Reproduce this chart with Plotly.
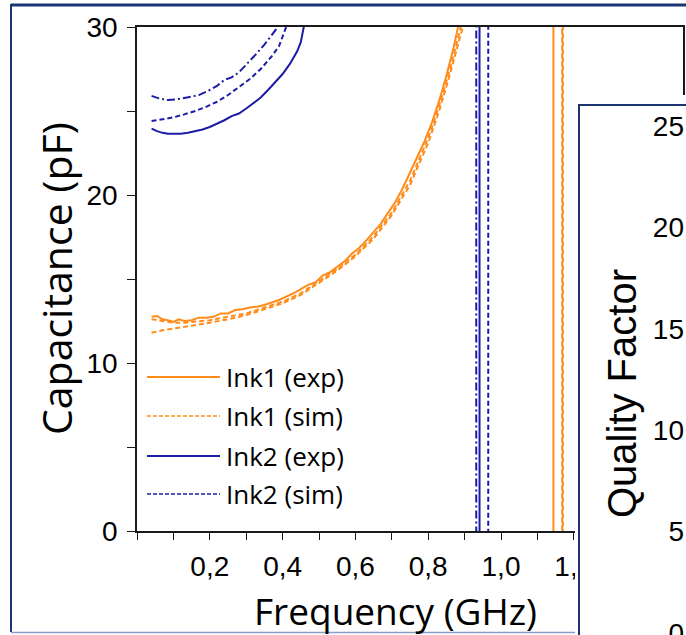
import plotly.graph_objects as go

# ---------------- data ----------------
# Ink1 (orange), measured
ink1_exp_f = [0.04, 0.055, 0.07, 0.085, 0.10, 0.115, 0.13, 0.15, 0.17, 0.19, 0.21, 0.23, 0.25,
              0.27, 0.29, 0.31, 0.33, 0.35, 0.37, 0.39, 0.41, 0.43, 0.45, 0.47, 0.49, 0.51,
              0.53, 0.55, 0.57, 0.59, 0.61, 0.63, 0.65, 0.67, 0.69, 0.71, 0.73, 0.75, 0.77,
              0.79, 0.81, 0.83, 0.85, 0.87, 0.885, 0.95, 1.0, 1.05, 1.1, 1.143, 1.145, 1.2, 1.5]
ink1_exp_c = [12.75, 12.8, 12.6, 12.55, 12.45, 12.6, 12.5, 12.55, 12.7, 12.7, 12.75, 12.95, 12.95,
              13.15, 13.2, 13.3, 13.35, 13.45, 13.6, 13.75, 13.95, 14.15, 14.4, 14.65, 14.8, 15.2,
              15.4, 15.75, 16.05, 16.5, 16.85, 17.3, 17.8, 18.3, 18.95, 19.6, 20.4, 21.3, 22.2,
              23.2, 24.3, 25.6, 27.1, 28.8, 30.3, 45, 60, 100, 250, 5000, -5000, -300, -60]
# Ink1 (orange), simulated - two variants
ink1_sim_a_f = [0.04, 0.07, 0.10, 0.13, 0.16, 0.20, 0.25, 0.30, 0.35, 0.40, 0.45, 0.50, 0.55,
                0.60, 0.65, 0.70, 0.75, 0.80, 0.83, 0.86, 0.893, 0.95, 1.05, 1.12, 1.167, 1.169, 1.25, 1.5]
ink1_sim_a_c = [12.6, 12.5, 12.4, 12.4, 12.45, 12.55, 12.75, 12.95, 13.3, 13.65, 14.15, 14.85, 15.6,
                16.45, 17.55, 18.95, 20.85, 23.4, 25.3, 27.5, 30.3, 42, 80, 200, 5000, -5000, -250, -60]
ink1_sim_b_f = [0.04, 0.07, 0.10, 0.13, 0.16, 0.20, 0.25, 0.30, 0.35, 0.40, 0.45, 0.50, 0.55,
                0.60, 0.65, 0.70, 0.75, 0.80, 0.83, 0.86, 0.90, 0.95, 1.05, 1.12, 1.169, 1.171, 1.25, 1.5]
ink1_sim_b_c = [11.8, 11.95, 12.05, 12.15, 12.25, 12.4, 12.6, 12.85, 13.2, 13.55, 14.05, 14.75, 15.5,
                16.35, 17.4, 18.8, 20.6, 23.1, 25.0, 27.2, 30.4, 40, 78, 190, 5000, -5000, -250, -60]

# Ink2 (blue), measured
ink2_exp_f = [0.04, 0.055, 0.07, 0.085, 0.10, 0.12, 0.14, 0.16, 0.18, 0.20, 0.22, 0.24, 0.26,
              0.28, 0.30, 0.32, 0.34, 0.36, 0.38, 0.40, 0.42, 0.44, 0.45, 0.46, 0.5, 0.6, 0.7,
              0.8, 0.9, 0.940, 0.942, 1.0, 1.2, 1.5]
ink2_exp_c = [23.95, 23.8, 23.7, 23.65, 23.65, 23.65, 23.7, 23.8, 23.9, 24.05, 24.25, 24.45, 24.7,
              24.85, 25.15, 25.5, 25.8, 26.25, 26.7, 27.2, 27.8, 28.55, 29.1, 30.2, 40, 60, 90,
              150, 400, 5000, -5000, -300, -80, -40]
# Ink2 (blue), simulated - dashed and dash-dot variants
ink2_sim_a_f = [0.04, 0.07, 0.10, 0.13, 0.16, 0.19, 0.22, 0.25, 0.28, 0.31, 0.34, 0.37, 0.39,
                0.40, 0.41, 0.42, 0.5, 0.7, 0.9, 0.964, 0.966, 1.1, 1.5]
ink2_sim_a_c = [24.4, 24.5, 24.62, 24.8, 25.0, 25.25, 25.55, 25.95, 26.4, 26.9, 27.5, 28.25, 28.85,
                29.4, 30.0, 30.6, 42, 90, 400, 5000, -5000, -200, -40]
ink2_sim_b_f = [0.04, 0.06, 0.085, 0.11, 0.137, 0.17, 0.20, 0.22, 0.24, 0.26, 0.28, 0.30, 0.33,
                0.35, 0.366, 0.38, 0.39, 0.5, 0.7, 0.9, 0.931, 0.933, 1.1, 1.5]
ink2_sim_b_c = [25.9, 25.75, 25.65, 25.7, 25.8, 25.95, 26.25, 26.5, 26.85, 27.0, 27.3, 27.75, 28.45,
                28.95, 29.4, 29.8, 30.2, 45, 95, 420, 5000, -5000, -200, -40]

x_tick_vals = [0.2, 0.4, 0.6, 0.8, 1.0, 1.2, 1.4]
x_tick_text = ["0,2", "0,4", "0,6", "0,8", "1,0", "1,2", "1,4"]
y_tick_vals = [0, 10, 20, 30]
q_tick_vals = [0, 5, 10, 15, 20, 25]
legend_labels = ["Ink1 (exp)", "Ink1 (sim)", "Ink2 (exp)", "Ink2 (sim)"]
x_title = "Frequency (GHz)"
y_title = "Capacitance (pF)"
q_title = "Quality Factor"

# ---------------- styling / layout ----------------
W, H = 686, 635
ORANGE = "#ff8c1a"
BLUE = "#1c1ca6"
NAVY = "#1b3572"
AXIS = "#1a1a1a"
TICKFONT = dict(family="Liberation Sans, Arial", size=28, color="black")


def px(x):
    return x / W


def py(y):
    return 1 - y / H


# main plot occupies x 137..683, y 27..531 (pixels)
XDOM = [px(137), px(683)]
YDOM = [py(531), py(27)]

fig = go.Figure()

traces = [
    (ink1_exp_f, ink1_exp_c, ORANGE, "solid", 2.0),
    (ink1_sim_a_f, ink1_sim_a_c, ORANGE, "5px,3px", 2.0),
    (ink1_sim_b_f, ink1_sim_b_c, ORANGE, "5px,3px", 2.0),
    (ink2_exp_f, ink2_exp_c, BLUE, "solid", 2.0),
    (ink2_sim_a_f, ink2_sim_a_c, BLUE, "5px,3px", 2.0),
    (ink2_sim_b_f, ink2_sim_b_c, BLUE, "8px,3px,2px,3px", 2.0),
]
for f, c, col, dash, w in traces:
    fig.add_trace(go.Scatter(x=f, y=c, mode="lines", showlegend=False, hoverinfo="skip",
                             line=dict(color=col, dash=dash, width=w)))

# inset (quality-factor panel) axes - no data visible in the window
fig.add_trace(go.Scatter(x=[], y=[], xaxis="x2", yaxis="y2", showlegend=False))

# inset y axis: q value -> pixel: 633 - 20.28*q
Q_PX0, Q_PX_PER = 633.0, 20.28
q_lo = (Q_PX0 - H) / Q_PX_PER
q_hi = (Q_PX0 - 95) / Q_PX_PER

fig.update_layout(
    width=W, height=H, autosize=False,
    margin=dict(l=0, r=0, t=0, b=0, pad=0, autoexpand=False),
    showlegend=False,
    paper_bgcolor="white", plot_bgcolor="white",
    xaxis=dict(domain=XDOM, range=[0, 1.5], showgrid=False, zeroline=False, automargin=False,
               showline=True, linecolor=AXIS, linewidth=1.5, mirror=True,
               ticks="outside", ticklen=7, tickwidth=1.2, tickcolor=AXIS,
               tickvals=x_tick_vals, ticktext=x_tick_text, tickfont=TICKFONT,
               ticklabelstandoff=3,
               minor=dict(dtick=0.1, tick0=0, ticks="outside", ticklen=7, tickwidth=1.2,
                          tickcolor=AXIS, showgrid=False),
               anchor="y"),
    yaxis=dict(domain=YDOM, range=[0, 30], showgrid=False, zeroline=False, automargin=False,
               showline=True, linecolor=AXIS, linewidth=1.5, mirror=True,
               ticks="outside", ticklen=8, tickwidth=1.2, tickcolor=AXIS,
               tickvals=y_tick_vals, tickfont=TICKFONT, ticklabelstandoff=4,
               minor=dict(dtick=5, tick0=0, ticks="outside", ticklen=8, tickwidth=1.2,
                          tickcolor=AXIS, showgrid=False),
               anchor="x"),
    xaxis2=dict(domain=[px(575), 1], range=[0, 1], visible=False, anchor="y2", automargin=False),
    yaxis2=dict(domain=[0, py(95)], range=[q_lo, q_hi], anchor="free", position=1.0,
                side="left", showgrid=False, zeroline=False, showline=False, automargin=False,
                ticks="", tickvals=q_tick_vals, tickfont=TICKFONT, ticklabelstandoff=2,
                ticklabeloverflow="allow"),
)

x2_of = lambda p: (p - 575) / (W - 575)
q_of = lambda p: (Q_PX0 - p) / Q_PX_PER

shapes = [
    # outer frame
    dict(type="line", xref="paper", yref="paper", x0=px(11), y0=py(5), x1=1.05, y1=py(5),
         line=dict(color=NAVY, width=3), layer="below"),
    dict(type="line", xref="paper", yref="paper", x0=px(11), y0=py(4), x1=px(11), y1=py(632),
         line=dict(color=NAVY, width=2), layer="below"),
    dict(type="line", xref="paper", yref="paper", x0=px(11), y0=py(632.5), x1=1.05, y1=py(632.5),
         line=dict(color="#8c9dc6", width=1.5), layer="below"),
    # inset panel (covers right part of main plot)
    dict(type="rect", xref="x2", yref="y2", x0=x2_of(579), y0=q_lo - 2, x1=1.5, y1=q_of(105),
         fillcolor="white", line=dict(color=NAVY, width=2), layer="below"),
]

# manual legend (long line samples like the reference)
leg_rows = [377, 416, 456, 494]
leg_styles = [(ORANGE, "solid", 2), (ORANGE, "4px,2px", 1.5), (BLUE, "solid", 2), (BLUE, "4px,2px", 1.5)]
annotations = []
for yrow, (col, dash, w), lab in zip(leg_rows, leg_styles, legend_labels):
    shapes.append(dict(type="line", xref="paper", yref="paper", x0=px(147), x1=px(220),
                       y0=py(yrow), y1=py(yrow), line=dict(color=col, dash=dash, width=w),
                       layer="above"))
    annotations.append(dict(text=lab, xref="paper", yref="paper", x=px(224), y=py(yrow),
                            xanchor="left", yanchor="middle", showarrow=False,
                            font=dict(family="Open Sans", size=26, color="black")))

annotations += [
    dict(text=x_title, xref="paper", yref="paper", x=px(395), y=py(610), xanchor="center",
         yanchor="middle", showarrow=False,
         font=dict(family="Open Sans", size=37, color="black")),
    dict(text=y_title, xref="paper", yref="paper", x=px(56), y=py(279), xanchor="center",
         yanchor="middle", showarrow=False, textangle=-90,
         font=dict(family="Open Sans", size=41, color="black")),
    dict(text=q_title, xref="paper", yref="paper", x=px(622), y=py(394), xanchor="center",
         yanchor="middle", showarrow=False, textangle=-90,
         font=dict(family="Liberation Sans, Arial", size=40, color="black")),
]

fig.update_layout(shapes=shapes, annotations=annotations)
fig.write_html("out.html", config={"displayModeBar": False},
               post_script="document.body.style.margin='0';document.body.style.padding='0';")
